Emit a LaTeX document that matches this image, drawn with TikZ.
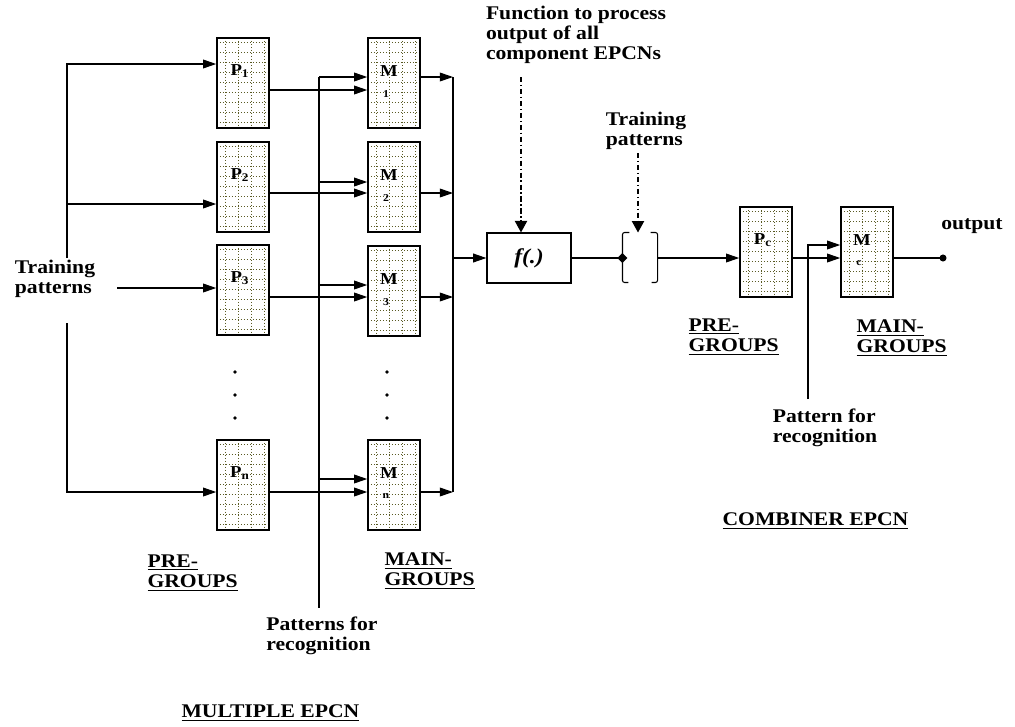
\documentclass[tikz,border=0pt]{standalone}
\usepackage{fontspec}
\setmainfont{Liberation Serif}[FakeStretch=1.12]
\usetikzlibrary{arrows.meta}
\definecolor{gridol}{RGB}{90,90,35}
\tikzset{
  txt/.style={font=\fontsize{11}{11.5}\selectfont\bfseries, inner sep=0pt, align=left},
  arr/.style={-{Triangle[length=7.5pt,width=5pt]}},
  dasharr/.style={dash pattern=on 3pt off 1.5pt on 0.8pt off 1.5pt, -{Triangle[length=6.5pt,width=7pt]}},
  griddot/.style={draw=gridol, line width=0.5pt, dash pattern=on 0.6pt off 1.1pt},
  lbl/.style={font=\fontsize{9.5}{10}\selectfont\bfseries, inner sep=0pt, anchor=center},
  idx/.style={font=\fontsize{6}{6}\selectfont\bfseries, inner sep=0pt, anchor=center},
  grp/.style={draw, line width=0.9pt, minimum width=1.04cm, minimum height=1.8cm, inner sep=0pt,
    path picture={
      \foreach \gx in {8,21,34,47}
        \draw[griddot] (path picture bounding box.north west) ++(\gx,0) -- ++(0,90);
      \foreach \gy in {4,14,...,84}
        \draw[griddot] (path picture bounding box.north west) ++(0,\gy) -- ++(52,0);
    }},
  plab/.style={label={[lbl, xshift=-0.06cm, yshift=-0.68cm]north:P\textsubscript{#1}}},
  mlab/.style={label={[lbl, xshift=-0.1cm, yshift=-0.68cm]north:M},
               label={[idx, xshift=-0.16cm, yshift=-1.14cm]north:#1}},
}
\begin{document}
\begin{tikzpicture}[x=0.02cm, y=-0.02cm, line width=0.6pt]
    \useasboundingbox (0,0) rectangle (1015,727);
    % multiple EPCN: pre-groups and main-groups
    \node[grp, plab=1] (P1) at (243,83) {};
    \node[grp, plab=2] (P2) at (243,187) {};
    \node[grp, plab=3] (P3) at (243,290) {};
    \node[grp, plab=n] (Pn) at (243,485) {};
    \node[grp, mlab=1] (M1) at (394,83) {};
    \node[grp, mlab=2] (M2) at (394,187) {};
    \node[grp, mlab=3] (M3) at (394,291) {};
    \node[grp, mlab=n] (Mn) at (394,485) {};
    \foreach \dy in {372,395,418} {
        \fill (235,\dy) circle (1.1pt);
        \fill (387,\dy) circle (1.1pt);
    }
    % training patterns into pre-groups
    \node[txt] (train) at (55,279) {Training\\patterns};
    \coordinate (trTop) at (67,258);
    \coordinate (trBot) at (67,323);
    \coordinate (trMid) at (117,288);
    \draw[arr] (trTop) |- (P1.west |- 0,64);
    \draw[arr] (trTop |- 0,204) -- (P2.west |- 0,204);
    \draw[arr] (trMid) -- (P3.west |- trMid);
    \draw[arr] (trBot) |- (Pn.west |- 0,492);
    % pre-groups to main-groups
    \draw[arr] (P1.east |- 0,90) -- (M1.west |- 0,90);
    \draw[arr] (P2.east |- 0,193) -- (M2.west |- 0,193);
    \draw[arr] (P3.east |- 0,297) -- (M3.west |- 0,297);
    \draw[arr] (Pn.east |- 0,492) -- (Mn.west |- 0,492);
    % patterns for recognition
    \node[txt] (rec1) at (322,636) {Patterns for\\recognition};
    \coordinate (recTop) at (319,77);
    \coordinate (recBot) at (319,608);
    \draw (recTop) -- (recBot);
    \draw[arr] (recTop) -- (M1.west |- recTop);
    \draw[arr] (recTop |- 0,182) -- (M2.west |- 0,182);
    \draw[arr] (recTop |- 0,285) -- (M3.west |- 0,285);
    \draw[arr] (recTop |- 0,479) -- (Mn.west |- 0,479);
    % outputs to f(.)
    \node[draw, line width=0.7pt, minimum width=1.68cm, minimum height=1cm, inner sep=0pt,
          font=\fontsize{12}{12}\selectfont\bfseries\itshape] (f) at (529,258) {f(.)};
    \coordinate (busTop) at (453,77);
    \coordinate (busBot) at (453,492);
    \draw (busTop) -- (busBot);
    \draw[arr] (M1.east |- busTop) -- (busTop);
    \draw[arr] (M2.east |- 0,193) -- (busTop |- 0,193);
    \draw[arr] (M3.east |- 0,297) -- (busTop |- 0,297);
    \draw[arr] (Mn.east |- busBot) -- (busBot);
    \draw[arr] (busTop |- f.west) -- (f.west);
    \node[txt] (fn) at (576,35) {Function to process\\output of all\\component EPCNs};
    \coordinate (fnTail) at (521,77);
    \draw[dasharr] (fnTail) -- (f.north -| fnTail);
    % bracket with training patterns
    \node[minimum width=0.68cm, minimum height=1cm, inner sep=0pt] (brk) at (640,258) {};
    \draw[rounded corners=1.2pt] (brk.north west) ++(7,0) -- ++(-7,0) -- ++(0,50) -- ++(6,0);
    \draw[rounded corners=1.2pt] (brk.north east) ++(-7,0) -- ++(7,0) -- ++(0,50) -- ++(-6,0);
    \draw (f.east) -- (brk.west);
    \fill (brk.west) +(-5,0) -- +(0,-5) -- +(5,0) -- +(0,5) -- cycle;
    \node[txt] (tp2) at (646,131) {Training\\patterns};
    \coordinate (tpTail) at (638,153);
    \draw[dasharr] (tpTail) -- (brk.north -| tpTail);
    % combiner EPCN
    \node[grp, plab=c] (Pc) at (766,252) {};
    \node[grp, mlab=c] (Mc) at (867,252) {};
    \draw[arr] (brk.east) -- (Pc.west |- brk.east);
    \draw[arr] (Pc.east |- brk.east) -- (Mc.west |- brk.east);
    \node[txt] (rec2) at (825,428) {Pattern for\\recognition};
    \coordinate (rc2Top) at (808,245);
    \coordinate (rc2Bot) at (808,399);
    \draw[arr] (rc2Bot) -- (rc2Top) -- (Mc.west |- rc2Top);
    \coordinate (outp) at (943,258);
    \draw (Mc.east |- outp) -- (outp);
    \fill (outp) circle (2pt);
    \node[txt] (outtxt) at (972,226) {output};
    % group captions
    \node[txt, anchor=west] (pre1) at (147,573) {\underline{PRE-}\\\underline{GROUPS}};
    \node[txt, anchor=west] (main1) at (384,571) {\underline{MAIN-}\\\underline{GROUPS}};
    \node[txt, anchor=west] (pre2) at (688,337) {\underline{PRE-}\\\underline{GROUPS}};
    \node[txt, anchor=west] (main2) at (856,338) {\underline{MAIN-}\\\underline{GROUPS}};
    \node[txt, anchor=west] (multi) at (181,713) {\underline{MULTIPLE EPCN}};
    \node[txt, anchor=west] (comb) at (722,521) {\underline{COMBINER EPCN}};
\end{tikzpicture}
\end{document}
